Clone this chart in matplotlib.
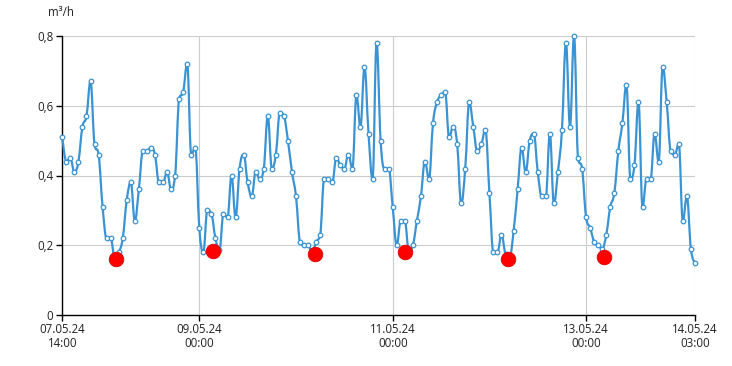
import matplotlib
matplotlib.use("Agg")
import matplotlib.pyplot as plt
from matplotlib.path import Path
from matplotlib.patches import PathPatch

plt.rcParams['font.family'] = ['Open Sans', 'DejaVu Sans']

# hourly flow values starting 07.05.24 14:00 (m³/h)
values = [0.51, 0.44, 0.45, 0.41, 0.44, 0.54, 0.57, 0.67, 0.49, 0.46,
          0.31, 0.22, 0.22, 0.165, 0.18, 0.22, 0.33, 0.38, 0.27, 0.36,
          0.47, 0.47, 0.48, 0.46, 0.38, 0.38, 0.41, 0.36, 0.40, 0.62,
          0.64, 0.72, 0.46, 0.48, 0.25, 0.18, 0.30, 0.29, 0.22, 0.185,
          0.29, 0.28, 0.40, 0.28, 0.42, 0.46, 0.38, 0.34, 0.41, 0.39,
          0.42, 0.57, 0.42, 0.46, 0.58, 0.57, 0.50, 0.41, 0.34, 0.21,
          0.20, 0.20, 0.18, 0.21, 0.23, 0.39, 0.39, 0.38, 0.45, 0.43,
          0.42, 0.46, 0.42, 0.63, 0.54, 0.71, 0.52, 0.39, 0.78, 0.50,
          0.42, 0.42, 0.31, 0.20, 0.27, 0.27, 0.185, 0.20, 0.27, 0.34,
          0.44, 0.39, 0.55, 0.61, 0.63, 0.64, 0.51, 0.54, 0.49, 0.32,
          0.42, 0.61, 0.54, 0.47, 0.49, 0.53, 0.35, 0.18, 0.18, 0.23,
          0.175, 0.165, 0.24, 0.36, 0.48, 0.41, 0.50, 0.52, 0.41, 0.34,
          0.34, 0.52, 0.32, 0.41, 0.53, 0.78, 0.54, 0.80, 0.45, 0.42,
          0.28, 0.25, 0.21, 0.20, 0.19, 0.23, 0.31, 0.35, 0.47, 0.55,
          0.66, 0.39, 0.43, 0.61, 0.31, 0.39, 0.39, 0.52, 0.44, 0.71,
          0.61, 0.47, 0.46, 0.49, 0.27, 0.34, 0.19, 0.15]
hours = list(range(len(values)))

# night minimum markers (hours since start, value)
min_hours = [13.26, 37.4, 62.7, 85.1, 110.7, 134.4]
min_values = [0.160, 0.183, 0.174, 0.180, 0.160, 0.165]

xtick_hours = [0, 34, 82, 130, 157]
xtick_labels = ["07.05.24\n14:00", "09.05.24\n00:00", "11.05.24\n00:00",
                "13.05.24\n00:00", "14.05.24\n03:00"]
ytick_vals = [0, 0.2, 0.4, 0.6, 0.8]
ytick_labels = ["0", "0,2", "0,4", "0,6", "0,8"]

LINE = '#3a93d2'

fig = plt.figure(figsize=(7.32, 3.66), dpi=100)
ax = fig.add_axes([62.3 / 732, 1 - 315 / 366, (694.9 - 62.3) / 732, (315 - 36) / 366])
ax.set_xlim(0, 157)
ax.set_ylim(0, 0.8)

# spline path (Highcharts-like control points) built from the data
def spline_path(xs, ys, smoothing=1.5):
    n = len(xs)
    denom = smoothing + 1
    lc = [None] * n
    rc = [None] * n
    for i in range(n):
        if i == 0 or i == n - 1:
            lc[i] = (xs[i], ys[i])
            rc[i] = (xs[i], ys[i])
            continue
        px, py = xs[i], ys[i]
        lx, ly = xs[i - 1], ys[i - 1]
        nx, ny = xs[i + 1], ys[i + 1]
        lcx = (smoothing * px + lx) / denom
        lcy = (smoothing * py + ly) / denom
        rcx = (smoothing * px + nx) / denom
        rcy = (smoothing * py + ny) / denom
        if rcx != lcx:
            corr = ((rcy - lcy) * (rcx - px)) / (rcx - lcx) + py - rcy
            lcy += corr
            rcy += corr
        if lcy > max(ly, py):
            lcy = max(ly, py); rcy = 2 * py - lcy
        elif lcy < min(ly, py):
            lcy = min(ly, py); rcy = 2 * py - lcy
        if rcy > max(py, ny):
            rcy = max(py, ny); lcy = 2 * py - rcy
        elif rcy < min(py, ny):
            rcy = min(py, ny); lcy = 2 * py - rcy
        lc[i] = (lcx, lcy)
        rc[i] = (rcx, rcy)
    verts = [(xs[0], ys[0])]
    codes = [Path.MOVETO]
    for i in range(1, n):
        verts += [rc[i - 1], lc[i], (xs[i], ys[i])]
        codes += [Path.CURVE4] * 3
    return Path(verts, codes)

ax.grid(True, color='#cccccc', lw=0.8)
ax.set_axisbelow(True)

patch = PathPatch(spline_path(hours, values), facecolor='none', edgecolor=LINE,
                  lw=1.6, transform=ax.transData, zorder=3, capstyle='round',
                  joinstyle='round', clip_on=False)
ax.add_patch(patch)
ax.plot(hours, values, ls='none', marker='o', ms=3.3, mfc='white', mec=LINE,
        mew=0.9, zorder=4, clip_on=False)
ax.plot(min_hours, min_values, ls='none', marker='o', ms=10.5, mfc='#ff0000',
        mec='#e00000', mew=0.6, zorder=5, clip_on=False)

ax.set_xticks(xtick_hours)
ax.set_xticklabels(xtick_labels, fontsize=8.3, color='#222222', linespacing=1.05)
ax.set_yticks(ytick_vals)
ax.set_yticklabels(ytick_labels, fontsize=8.3, color='#222222')
ax.tick_params(axis='x', length=4.5, width=1, color='black', pad=1.5)
ax.tick_params(axis='y', length=4.5, width=1, color='black', pad=2)

for s in ['top', 'right']:
    ax.spines[s].set_visible(False)
for s in ['left', 'bottom']:
    ax.spines[s].set_color('black')
    ax.spines[s].set_linewidth(1)

fig.text(48 / 732, 1 - 13 / 366, 'm³/h', fontsize=8.3, color='#222222',
         ha='left', va='center')

fig.savefig('out.png', dpi=100)
